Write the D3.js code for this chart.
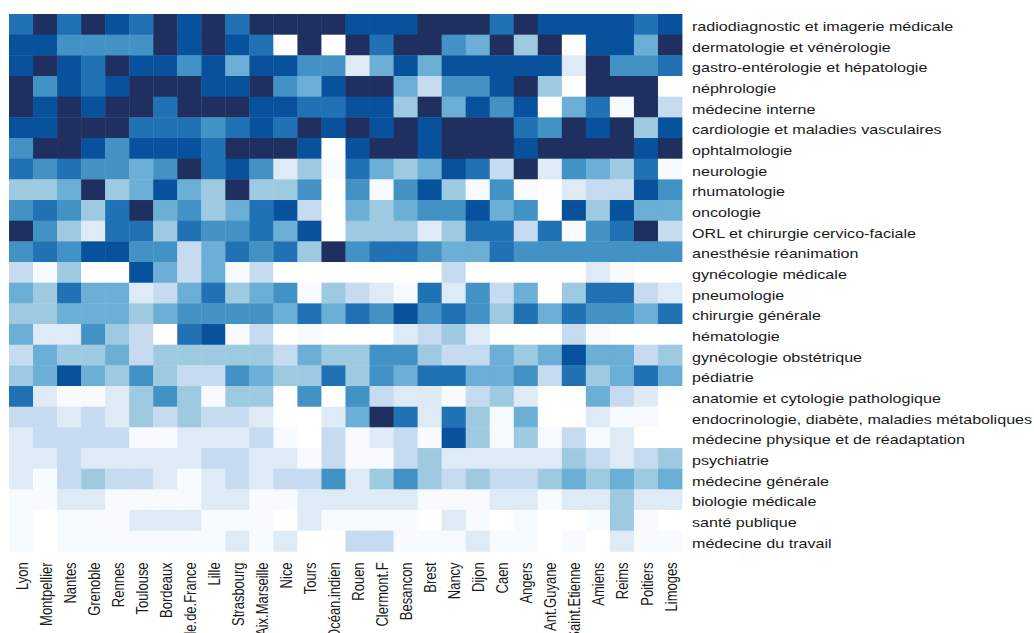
<!DOCTYPE html>
<html>
<head>
<meta charset="utf-8">
<script src="https://cdn.jsdelivr.net/npm/d3@7"></script>
<style>
  html, body { margin: 0; padding: 0; background: #ffffff; }
  svg { display: block; }
  text { font-family: "Liberation Sans", Arial, sans-serif; fill: #1a1a1a; }
</style>
</head>
<body>
<svg id="chart" width="1034" height="633"></svg>
<script>
const cities = ["Lyon","Montpellier","Nantes","Grenoble","Rennes","Toulouse","Bordeaux","Ile.de.France","Lille","Strasbourg","Aix.Marseille","Nice","Tours","Océan.indien","Rouen","Clermont.F","Besancon","Brest","Nancy","Dijon","Caen","Angers","Ant.Guyane","Saint.Etienne","Amiens","Reims","Poitiers","Limoges"];

const specialties = ["radiodiagnostic et imagerie médicale","dermatologie et vénérologie","gastro-entérologie et hépatologie","néphrologie","médecine interne","cardiologie et maladies vasculaires","ophtalmologie","neurologie","rhumatologie","oncologie","ORL et chirurgie cervico-faciale","anesthésie réanimation","gynécologie médicale","pneumologie","chirurgie générale","hématologie","gynécologie obstétrique","pédiatrie","anatomie et cytologie pathologique","endocrinologie, diabète, maladies métaboliques","médecine physique et de réadaptation","psychiatrie","médecine générale","biologie médicale","santé publique","médecine du travail"];

// colour level (0 = lowest ... 9 = highest) per specialty row, one value per city
const levels = [
  [7,9,7,9,8,7,9,8,9,7,9,9,9,9,8,8,8,9,9,9,7,9,8,8,8,8,7,8],
  [8,8,6,6,6,6,9,8,9,8,7,0,9,0,9,7,9,9,6,5,9,4,9,0,8,8,5,9],
  [8,9,8,7,9,8,8,6,8,5,8,8,6,6,2,5,8,5,8,8,8,8,8,2,9,6,6,7],
  [9,6,8,7,8,9,9,9,8,8,9,6,5,8,9,9,5,3,6,6,8,9,4,0,9,9,9,0],
  [9,8,9,8,9,9,7,9,9,9,8,8,7,7,8,8,4,9,5,8,6,8,0,5,7,1,9,3],
  [8,8,9,9,9,7,7,7,6,7,8,7,9,8,9,8,9,8,9,9,9,7,6,9,8,9,4,8],
  [6,9,9,8,6,8,8,8,7,9,9,9,8,0,8,9,9,8,9,9,9,8,9,9,9,9,8,9],
  [7,6,7,6,6,5,6,9,7,8,6,2,4,1,7,5,4,5,8,7,3,9,2,6,5,4,7,1],
  [4,4,5,9,4,5,8,5,4,9,4,4,6,0,6,1,6,8,4,1,6,1,0,2,3,3,8,6],
  [6,7,6,4,7,9,5,6,4,5,7,8,3,0,5,4,5,6,6,8,5,6,0,8,4,8,5,5],
  [9,6,4,2,7,7,4,7,6,6,7,5,8,0,4,4,4,2,4,7,7,3,7,1,6,7,9,3],
  [6,7,6,8,8,6,6,3,5,7,6,7,4,9,6,7,7,6,5,5,7,6,6,6,6,6,6,6],
  [3,1,4,0,0,8,5,3,5,1,3,0,0,0,0,0,0,0,3,0,0,0,0,0,2,1,0,0],
  [5,4,7,5,5,2,3,5,7,4,5,6,1,4,3,2,1,7,2,6,3,5,0,4,7,7,3,2],
  [4,4,5,5,5,4,5,6,6,6,6,5,7,5,7,6,8,6,7,6,4,7,5,7,6,6,5,7],
  [5,2,2,6,4,3,0,7,8,1,3,0,1,0,0,0,2,3,4,2,0,0,0,3,1,0,0,0],
  [3,5,4,4,5,3,4,4,4,4,4,3,5,4,4,6,6,4,3,3,5,4,5,8,5,5,3,4],
  [4,5,8,5,4,6,4,3,3,6,5,4,4,7,4,6,5,7,7,5,5,6,3,7,4,5,7,5],
  [7,2,1,1,2,4,6,4,1,4,4,0,6,0,6,3,2,2,1,3,4,2,0,0,5,3,2,0],
  [3,3,2,3,2,4,3,4,3,3,2,0,0,2,5,9,7,2,7,4,1,5,0,0,2,1,1,0],
  [2,3,3,3,3,1,1,2,2,2,3,1,0,3,1,2,3,1,8,4,1,4,1,3,1,2,0,0],
  [2,2,3,2,2,2,2,2,3,3,2,2,1,3,1,1,3,4,2,2,2,2,2,4,3,2,3,4],
  [2,1,3,4,3,3,2,1,2,3,2,3,3,6,2,4,6,4,3,4,3,3,4,5,4,5,4,5],
  [1,1,2,2,1,1,1,1,2,2,1,1,2,2,2,2,2,1,1,1,2,2,1,2,2,4,2,2],
  [1,0,1,1,1,2,2,2,1,1,1,0,2,1,1,1,1,0,2,1,0,1,0,0,1,4,1,0],
  [1,0,1,1,1,1,1,1,1,2,1,2,0,0,3,3,1,1,1,2,1,1,0,1,0,2,1,1]
];

const levelDomain = [0,1,2,3,4,5,6,7,8,9];
const palette = ["#ffffff","#f7fbff","#deebf7","#c6dbef","#9ecae1","#6baed6","#4292c6","#2171b5","#08519c","#1f2f60"];

const svg = d3.select("#chart");
const mLeft = 9, mRight = 682, mTop = 14, mBottom = 551.4;
const stretch = 1.24;

const x = d3.scaleBand().domain(cities).range([mLeft, mRight]).padding(0);
const y = d3.scaleBand().domain(specialties).range([mTop, mBottom]).padding(0);
const color = d3.scaleOrdinal().domain(levelDomain).range(palette);

const cells = [];
specialties.forEach((s, i) => {
  cities.forEach((c, j) => {
    cells.push({ spec: s, city: c, v: levels[i][j] });
  });
});

svg.append("g")
  .selectAll("rect")
  .data(cells)
  .join("rect")
  .attr("x", d => x(d.city))
  .attr("y", d => y(d.spec))
  .attr("width", x.bandwidth() + 0.4)
  .attr("height", y.bandwidth() + 0.4)
  .attr("fill", d => color(d.v));

// right axis: specialty labels
const yAxis = svg.append("g")
  .attr("transform", `translate(${mRight + 10},0)`)
  .call(d3.axisRight(y).tickSize(0).tickPadding(0));
yAxis.select(".domain").remove();
yAxis.selectAll("text")
  .attr("x", 0)
  .attr("dy", null)
  .attr("y", 6.6)
  .attr("text-anchor", "start")
  .attr("transform", `scale(${stretch},1)`)
  .style("font-family", '"Liberation Sans", Arial, sans-serif')
  .style("font-size", "13px")
  .style("fill", "#1a1a1a");

// bottom axis: city labels
const xAxis = svg.append("g")
  .attr("transform", `translate(0,${mBottom + 11})`)
  .call(d3.axisBottom(x).tickSize(0).tickPadding(0));
xAxis.select(".domain").remove();
xAxis.selectAll("text")
  .attr("x", 0)
  .attr("dy", null)
  .attr("y", 5.3)
  .attr("text-anchor", "end")
  .attr("transform", `scale(${stretch},1) rotate(-90)`)
  .style("font-family", '"Liberation Sans", Arial, sans-serif')
  .style("font-size", "13px")
  .style("fill", "#1a1a1a");
</script>
</body>
</html>
